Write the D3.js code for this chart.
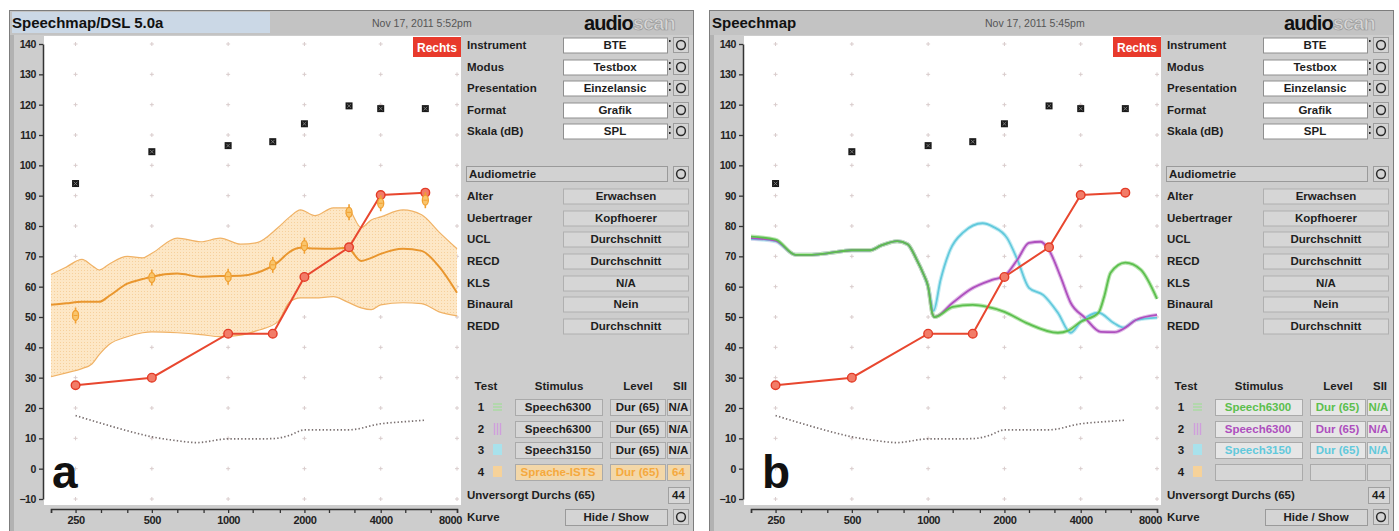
<!DOCTYPE html>
<html><head><meta charset="utf-8">
<script src="https://cdn.jsdelivr.net/npm/d3@7"></script>
<style>
body{margin:0;background:#fff}
svg{display:block}
text{font-family:"Liberation Sans",Arial,sans-serif}
</style>
</head><body>
<svg id="c" width="1399" height="531"></svg>
<script>
// ---------- DATA ----------
const X_TICKS = [200,250,315,400,500,630,800,1000,1250,1600,2000,2500,3150,4000,5000,6300,8000];
const X_LABELS = [250,500,1000,2000,4000,8000];
const Y_TICKS = [-10,0,10,20,30,40,50,60,70,80,90,100,110,120,130,140];
const GRID_FREQ = [250,500,1000,2000,4000,8000];

const AUD_FREQ = [250,500,1000,1500,2000,3000,4000,6000];
const UCL = [94,104.5,106.5,107.8,113.7,119.6,118.7,118.7];
const THRESHOLD = [27.5,30,44.5,44.5,63.2,73,90.2,91];
const AIDED_A = [50.5,63,63.3,67.2,73.5,84.5,87.5,88.5];

const NORM_FREQ = [250,300,400,500,630,750,1000,1250,1500,1750,2000,2500,3000,4000,5000,6000];
const NORM_VAL  = [17.5,15.5,12.5,10.5,9.2,8.6,9.8,9.8,9.9,11,12.8,12.8,12.8,14.8,15.5,16];

const SPEECH_FREQ = [200,230,265,290,310,340,400,460,500,630,780,930,1120,1300,1570,1750,1930,2200,2600,2950,3350,3670,4000,4900,5800,6800,8000];
const SPEECH_UPPER = [64,66.5,69,67,65.5,67.5,70,69.5,71,76,74.8,76,74,74.5,79.4,83,85.3,83.4,86,86,79.5,82,83,85.3,83.7,78,72.5];
const SPEECH_MID   = [54,54.5,55,55,55,57,61,62.5,63.3,64.3,63.3,63.5,63.6,64.6,68,71.5,72.8,72.6,72.5,72.8,68.5,69.5,70.8,72.5,71.8,66.6,58];
const SPEECH_LOWER = [30.3,31.6,33,34.5,37.6,41,43.5,44.8,45.1,44.8,44.2,43.5,44,45.5,48.4,55,56.3,56.3,56.7,55,53,52.4,54,54.7,54.4,51.7,50.4];

const GREEN_FREQ = [200,250,300,340,400,500,590,650,755,830,900,960,1000,1040,1060,1250,1500,1700,2000,2450,3250,3570,4000,4700,4950,5250,6000,6900,8000];
const GREEN_VAL  = [76.5,75.5,70.5,70.5,71,72,72,73.5,75,74,69,64,60,51,50,53.3,54,53.4,51.7,48,44.8,45.5,48.4,51.4,56.7,64.6,67.9,65.6,56];
const PURPLE_FREQ = [200,250,300,340,400,500,590,650,755,830,900,960,1000,1040,1060,1250,1460,1800,2000,2250,2500,2780,3000,3330,3650,4150,4800,5430,6000,6600,8000];
const PURPLE_VAL  = [76,75.2,70.5,70.5,71,72,72,73.5,75,74,69,64,60,51,50,54.7,59,62.3,63.5,68.9,74.4,74.8,72,63.3,54.7,49.8,45.1,45,46.5,49,50.7];
const CYAN_FREQ = [200,250,300,340,400,500,590,650,755,830,900,960,1000,1050,1120,1220,1380,1640,1800,2050,2250,2500,2850,3250,3650,4000,4700,5400,5900,6600,8000];
const CYAN_VAL  = [75.8,75,70.5,70.5,71,72,72,73.5,75,74,69,64,60,52,62.3,72,78,80.9,79.8,76,68.9,59.6,57.2,51.4,44.8,48.4,51.4,48,46.5,49,49.8];

const SETUP_LABELS = ["Instrument","Modus","Presentation","Format","Skala (dB)"];
const SETUP_VALUES = ["BTE","Testbox","Einzelansic","Grafik","SPL"];
const AUDIO_LABELS = ["Alter","Uebertrager","UCL","RECD","KLS","Binaural","REDD"];
const AUDIO_VALUES = ["Erwachsen","Kopfhoerer","Durchschnitt","Durchschnitt","N/A","Nein","Durchschnitt"];
const TEST_HEADERS = ["Test","Stimulus","Level","SII"];
const TESTS_A = [
  {n:"1", stim:"Speech6300", level:"Dur (65)", sii:"N/A"},
  {n:"2", stim:"Speech6300", level:"Dur (65)", sii:"N/A"},
  {n:"3", stim:"Speech3150", level:"Dur (65)", sii:"N/A"},
  {n:"4", stim:"Sprache-ISTS", level:"Dur (65)", sii:"64"}
];
const TESTS_B = [
  {n:"1", stim:"Speech6300", level:"Dur (65)", sii:"N/A"},
  {n:"2", stim:"Speech6300", level:"Dur (65)", sii:"N/A"},
  {n:"3", stim:"Speech3150", level:"Dur (65)", sii:"N/A"},
  {n:"4", stim:"", level:"", sii:""}
];
const TEST_COLORS = ["#5cbf4e","#ae4fbe","#62c9dc","#f2a53c"];

// ---------- DRAW ----------
const svg = d3.select("#c");
const FONT = '"Liberation Sans",Arial,sans-serif';

function panel(ox, opt){
  const g = svg.append("g").attr("transform",`translate(${ox},0)`);
  const x = d3.scaleLog().domain([200,8000]).range([51,457]);
  const y = d3.scaleLinear().domain([-10,140]).range([499,44]);

  // frame
  g.append("rect").attr("x",9.5).attr("y",10.5).attr("width",684).attr("height",530).attr("fill","#cdcdcd").attr("stroke","#7d7d7d");
  g.append("rect").attr("x",10).attr("y",11).attr("width",683).attr("height",24).attr("fill","#c3c3c3");
  if(opt.highlight) g.append("rect").attr("x",12).attr("y",12).attr("width",258).attr("height",21).attr("fill","#cbd8e6");
  g.append("rect").attr("x",10).attr("y",35).attr("width",4).attr("height",496).attr("fill","#b2b2b2");
  g.append("text").attr("x",12).attr("y",28).attr("font-size",15).attr("font-weight","bold").attr("fill","#111").text(opt.title);
  g.append("text").attr("x",opt.dateX).attr("y",27).attr("font-size",10.5).attr("fill","#555").text(opt.date);
  const logo = g.append("text").attr("x",584).attr("y",30).attr("font-family","DejaVu Sans").attr("font-size",20).attr("font-weight","bold").attr("letter-spacing",-0.9);
  logo.append("tspan").attr("fill","#111").text("audio");
  logo.append("tspan").attr("fill","#d6d6d6").attr("stroke","#9a9a9a").attr("stroke-width",0.7).text("scan");

  // plot area
  g.append("rect").attr("x",44).attr("y",36).attr("width",417).attr("height",469).attr("fill","#fff");

  // grid plus marks
  const grid = g.append("g").attr("stroke","#d9cccc").attr("stroke-width",1);
  GRID_FREQ.forEach(f=>Y_TICKS.forEach(v=>{
    const px=x(f), py=y(v);
    grid.append("line").attr("x1",px-2).attr("x2",px+2).attr("y1",py).attr("y2",py);
    grid.append("line").attr("x1",px).attr("x2",px).attr("y1",py-2).attr("y2",py+2);
  }));

  const line = d3.line().curve(d3.curveMonotoneX);

  if(opt.band){
    const defs = g.append("defs");
    const pat = defs.append("pattern").attr("id","dots"+ox).attr("width",3).attr("height",3).attr("patternUnits","userSpaceOnUse");
    pat.append("rect").attr("width",3).attr("height",3).attr("fill","#fde7c6");
    pat.append("rect").attr("width",1).attr("height",1).attr("fill","#f6d09c");
    const area = d3.area().curve(d3.curveMonotoneX)
      .x((d,i)=>x(SPEECH_FREQ[i])).y0((d,i)=>y(SPEECH_LOWER[i])).y1((d,i)=>y(SPEECH_UPPER[i]));
    g.append("path").attr("d",area(SPEECH_FREQ)).attr("fill",`url(#dots${ox})`);
    g.append("path").attr("d",line(SPEECH_FREQ.map((f,i)=>[x(f),y(SPEECH_UPPER[i])]))).attr("fill","none").attr("stroke","#f0b266").attr("stroke-width",1.2);
    g.append("path").attr("d",line(SPEECH_FREQ.map((f,i)=>[x(f),y(SPEECH_LOWER[i])]))).attr("fill","none").attr("stroke","#f0b266").attr("stroke-width",1.2);
    g.append("path").attr("d",line(SPEECH_FREQ.map((f,i)=>[x(f),y(SPEECH_MID[i])]))).attr("fill","none").attr("stroke","#e9962e").attr("stroke-width",2);
  }
  if(opt.curves){
    const series = [
      {f:CYAN_FREQ,v:CYAN_VAL,c:"#62c9dc",h:"#c3ecf3"},
      {f:PURPLE_FREQ,v:PURPLE_VAL,c:"#ae4fbe",h:"#e1bde8"},
      {f:GREEN_FREQ,v:GREEN_VAL,c:"#5cbf4e",h:"#b9e6b0"},
    ];
    series.forEach(s=>{
      g.append("path").attr("d",line(s.f.map((f,i)=>[x(f),y(s.v[i])]))).attr("fill","none").attr("stroke",s.h).attr("stroke-width",4).attr("stroke-linejoin","round");
    });
    series.forEach(s=>{
      g.append("path").attr("d",line(s.f.map((f,i)=>[x(f),y(s.v[i])]))).attr("fill","none").attr("stroke",s.c).attr("stroke-width",1.8).attr("stroke-linejoin","round");
    });
  }

  // normal threshold dotted line
  g.append("path").attr("d",line(NORM_FREQ.map((f,i)=>[x(f),y(NORM_VAL[i])]))).attr("fill","none")
    .attr("stroke","#7a7070").attr("stroke-width",1.7).attr("stroke-dasharray","1.4,2.2");

  // threshold
  g.append("path").attr("d",d3.line()(AUD_FREQ.map((f,i)=>[x(f),y(THRESHOLD[i])]))).attr("fill","none").attr("stroke","#e8472f").attr("stroke-width",2);
  g.selectAll(null).data(AUD_FREQ).join("circle").attr("cx",d=>x(d)).attr("cy",(d,i)=>y(THRESHOLD[i])).attr("r",4.3)
    .attr("fill","#f27c68").attr("stroke","#e33b27").attr("stroke-width",1.4);

  // UCL markers
  AUD_FREQ.forEach((f,i)=>{
    const px=x(f), py=y(UCL[i]);
    g.append("rect").attr("x",px-3.5).attr("y",py-3.5).attr("width",7).attr("height",7).attr("fill","#1a1a1a");
    g.append("path").attr("d",`M${px-1.8},${py-1.8}L${px+1.8},${py+1.8}M${px+1.8},${py-1.8}L${px-1.8},${py+1.8}`).attr("stroke","#8a8a8a").attr("stroke-width",0.8);
  });

  if(opt.aided){
    AUD_FREQ.forEach((f,i)=>{
      const px=x(f), py=y(AIDED_A[i]);
      g.append("line").attr("x1",px).attr("x2",px).attr("y1",py-8).attr("y2",py+8).attr("stroke","#f0a032").attr("stroke-width",1.6);
      g.append("ellipse").attr("cx",px).attr("cy",py).attr("rx",3).attr("ry",5).attr("fill","#f9c56c").attr("stroke","#f0a032").attr("stroke-width",1.3);
      g.append("line").attr("x1",px-2).attr("x2",px+2).attr("y1",py).attr("y2",py).attr("stroke","#f0a032").attr("stroke-width",1);
    });
  }

  // Rechts badge
  g.append("rect").attr("x",413).attr("y",37).attr("width",48).attr("height",20).attr("fill","#e83a2c");
  g.append("text").attr("x",437).attr("y",51.5).attr("text-anchor","middle").attr("font-size",12).attr("font-weight","bold").attr("fill","#fff").text("Rechts");

  // axes
  const ya = g.append("g").attr("transform","translate(43,0)")
    .call(d3.axisLeft(y).tickValues(Y_TICKS).tickSize(4).tickSizeOuter(0).tickPadding(3));
  ya.select(".domain").attr("stroke","#333").attr("stroke-width",1.5);
  ya.selectAll(".tick line").attr("stroke","#333").attr("stroke-width",1.3);
  ya.selectAll(".tick text").attr("font-family",FONT).attr("font-size",10.5).attr("font-weight","bold").attr("fill","#222").attr("letter-spacing",-0.4);

  const xa = g.append("g").attr("transform","translate(0,509)")
    .call(d3.axisBottom(x).tickValues(X_TICKS).tickSize(4).tickSizeOuter(4).tickPadding(3)
      .tickFormat(d=>X_LABELS.includes(d)?String(d):""));
  xa.select(".domain").attr("stroke","#333").attr("stroke-width",1.5);
  xa.selectAll(".tick line").attr("stroke","#333").attr("stroke-width",1.3);
  xa.selectAll(".tick text").attr("font-family",FONT).attr("font-size",11).attr("font-weight","bold").attr("fill","#222").attr("letter-spacing",-0.4);
  xa.selectAll(".tick text").filter(d=>d===8000).attr("dx",-7);

  // panel letter
  g.append("text").attr("x",opt.letterX).attr("y",488).attr("font-family","Open Sans").attr("font-weight",700).attr("font-size",46).attr("fill","#111").text(opt.letter);

  // ----- right side panel -----
  const T = (px,py,txt,o={})=>g.append("text").attr("x",px).attr("y",py+4).attr("font-size",o.size||11.5)
      .attr("font-weight",o.weight||"bold").attr("fill",o.fill||"#1e1e1e").attr("text-anchor",o.anchor||"start").text(txt);
  const box = (bx,by,bw,bh,fill,stroke)=>g.append("rect").attr("x",bx+0.5).attr("y",by+0.5).attr("width",bw).attr("height",bh).attr("fill",fill).attr("stroke",stroke||"#a2a2a2");
  const radio = (py)=>{
    box(673,py-8,15,15,"#d4d4d4","#9c9c9c");
    g.append("circle").attr("cx",681).attr("cy",py).attr("r",4.4).attr("fill","none").attr("stroke","#2a2a2a").attr("stroke-width",1.5);
  };

  const SETUP_Y = [45,67,88,110,131];
  SETUP_LABELS.forEach((l,i)=>{
    const py=SETUP_Y[i];
    T(467,py,l);
    box(563,py-7.5,104,15,"#ffffff","#8f8f8f");
    T(615,py,SETUP_VALUES[i],{anchor:"middle"});
    g.append("rect").attr("x",669).attr("y",py-5).attr("width",1.6).attr("height",2).attr("fill","#222");
    if(i%3!==0) g.append("rect").attr("x",669).attr("y",py+1).attr("width",1.6).attr("height",2).attr("fill","#222");
    radio(py);
  });

  box(466,166,201,15,"#d2d2d2","#9a9a9a");
  T(469,174,"Audiometrie");
  radio(174);

  const AUDIO_Y = [196,218,239,261,283,304,326];
  AUDIO_LABELS.forEach((l,i)=>{
    const py=AUDIO_Y[i];
    T(467,py,l);
    box(563,py-7.5,125,15,"#d6d6d6","#b0b0b0");
    T(626,py,AUDIO_VALUES[i],{anchor:"middle"});
  });

  // test table
  T(486,386,TEST_HEADERS[0],{anchor:"middle"});
  T(559,386,TEST_HEADERS[1],{anchor:"middle"});
  T(638,386,TEST_HEADERS[2],{anchor:"middle"});
  T(680,386,TEST_HEADERS[3],{anchor:"middle"});
  const TEST_Y = [407,429,450,472];
  const light = ["#a8dca0","#cf9fdc","#a9e2ec","#f6d29a"];
  opt.tests.forEach((t,i)=>{
    const py=TEST_Y[i];
    T(481,py,t.n,{anchor:"middle"});
    if(i===0){ [-3,0,3].forEach(d=>g.append("line").attr("x1",493).attr("x2",502).attr("y1",py+d).attr("y2",py+d).attr("stroke",light[0]).attr("stroke-width",1.4)); }
    else if(i===1){ [-3,0,3].forEach(d=>g.append("line").attr("x1",497.5+d).attr("x2",497.5+d).attr("y1",py-6).attr("y2",py+6).attr("stroke",light[1]).attr("stroke-width",1.4)); }
    else { g.append("rect").attr("x",493).attr("y",py-6).attr("width",9).attr("height",11).attr("fill",light[i]); }

    let fill, tcol;
    if(opt.colored){
      if(i<3){ fill="#e6e6e6"; tcol=TEST_COLORS[i]; } else { fill="#d6d6d6"; tcol="#222"; }
    } else {
      if(i<3){ fill="#d6d6d6"; tcol="#1e1e1e"; } else { fill="#f3d7a8"; tcol="#f5a93e"; }
    }
    box(515,py-8,87,16,fill,"#aaaaaa");
    box(610,py-8,55,16,fill,"#aaaaaa");
    box(667,py-8,23,16,fill,"#aaaaaa");
    if(t.stim) T(558,py,t.stim,{anchor:"middle",fill:tcol});
    if(t.level) T(637.5,py,t.level,{anchor:"middle",fill:tcol});
    if(t.sii) T(678.5,py,t.sii,{anchor:"middle",fill:tcol});
  });

  T(467,495,"Unversorgt Durchs (65)");
  box(668,487,21,16,"#d6d6d6","#a0a0a0");
  T(678.5,495,"44",{anchor:"middle"});
  T(467,517,"Kurve");
  box(565,509,102,16,"#d4d4d4","#9a9a9a");
  T(616,517,"Hide / Show",{anchor:"middle"});
  radio(517);
}

panel(0,{title:"Speechmap/DSL 5.0a",date:"Nov 17, 2011 5:52pm",dateX:372,highlight:true,band:true,aided:true,letter:"a",letterX:52,tests:TESTS_A,colored:false});
panel(700,{title:"Speechmap",date:"Nov 17, 2011 5:45pm",dateX:285,highlight:false,curves:true,letter:"b",letterX:62,tests:TESTS_B,colored:true});
</script>
</body></html>
